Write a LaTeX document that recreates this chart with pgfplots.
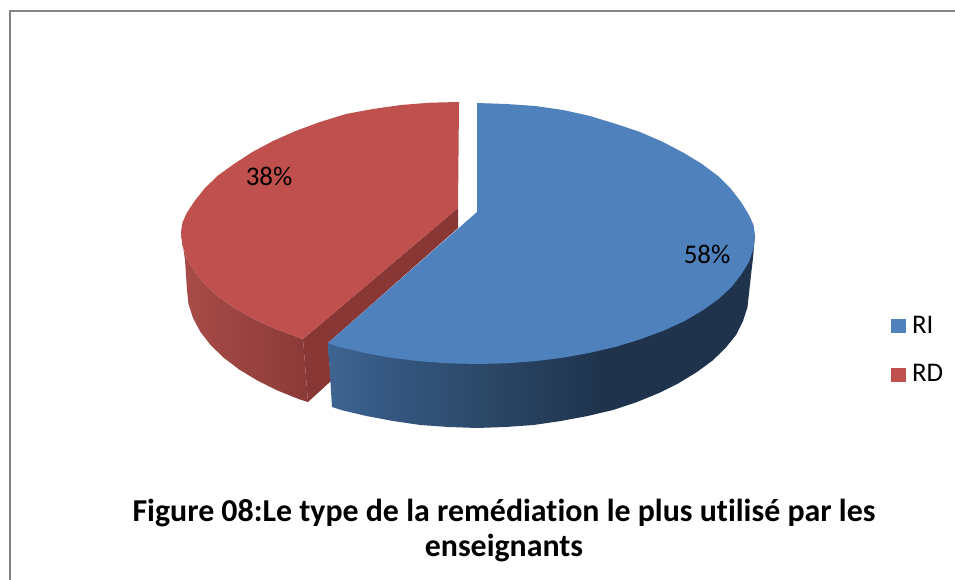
\documentclass[border=0pt]{standalone}
\usepackage{fontspec}
\setmainfont[Ligatures=NoCommon]{Carlito}
\usepackage{pgfplots}
\pgfplotsset{compat=1.18}
\definecolor{riC}{HTML}{4F81BD}
\definecolor{rdC}{HTML}{C0504D}
\definecolor{rdCut}{HTML}{893735}
\definecolor{rdA}{HTML}{A84C49}
\definecolor{rdB}{HTML}{8B3A37}
\definecolor{riA}{HTML}{3E6491}
\definecolor{riB}{HTML}{34567F}
\definecolor{riD}{HTML}{2B4766}
\definecolor{riE}{HTML}{1F334D}
\pgfdeclarehorizontalshading{blueside}{100bp}{color(0bp)=(riA); color(25bp)=(riA); color(33bp)=(riB); color(44bp)=(riD); color(57bp)=(riE); color(100bp)=(riE)}
\begin{document}
\begin{tikzpicture}
\begin{axis}[
  scale only axis, width=955bp, height=580bp,
  xmin=0, xmax=955, ymin=0, ymax=580, y dir=reverse,
  axis lines=none, clip=true,
  legend image code/.code={\fill[#1] (0bp,-7.5bp) rectangle (15bp,6.5bp);},
  reverse legend,
  legend cell align=left,
  legend style={at={(axis cs:891,314)}, anchor=north west, draw=none, fill=none,
    font=\fontsize{27}{32}\selectfont, row sep=26bp, inner sep=0pt, outer sep=0pt},
]
% page background
\addplot[forget plot, draw=none, fill=white] coordinates {(0,0)(955,0)(955,580)(0,580)};
% frame
\addplot[forget plot, draw=black!48, line width=2bp] coordinates {(9.5,580) (9.5,11) (955,11)};
% red side
\addplot[forget plot, draw=none, left color=rdA, right color=rdB] coordinates {
(181,232)(185,260)(187,290)(188.5,304)(193,318)(200.3,331.7)(210.5,344.9)(223.4,357.5)(239,369.4)(257,380.3)(277,390.3)(299,399.2)(308,402)
(303,339)(295.6,336.4)(273,327.9)(252.4,318.3)(234,307.8)(218,296.5)(205,284.5)(195,271.9)(187,258.8)(182.5,245.5)};
% red cut face
\addplot[forget plot, draw=none, fill=rdCut] coordinates {
(458,208)(303,339)(308,402)(331,381)(328,343)(458,228)};
% red top
\addplot[draw=none, fill=rdC] coordinates {
(459,102)(430,102.7)(401,105)(373,109)(346,114)(320,122)(295.6,131)(273,141)(252.4,152)(234,164)(218,175.5)(205,188)(195,200.5)(187,212.5)(182.5,222.4)(181,232)
(182.5,245.5)(187,258.8)(195,271.9)(205,284.5)(218,296.5)(234,307.8)(252.4,318.3)(273,327.9)(295.6,336.4)(303,339)
(458,208)};
\addlegendentry{\hspace{4bp}RD}
% blue side
\addplot[forget plot, draw=none, shading=blueside] coordinates {
(328,343)(332,407)(341,410)(366.4,416)(393,421)(420.4,425)(448.6,427)(477,428)(505.4,427)(533.6,425)(561,421)(587.6,416)(613,410)(637,402)(659,393)(679,383)(697,372)(712.6,360.5)(725.5,348)(736,335)(743,321)(747.5,307)(749,293)(751,275)(753,258)(755,235)
(477,300)};
% thin dark edge of blue
\addplot[forget plot, draw=riE, line width=0.8bp] coordinates {(477.5,103)(478,212)};
% blue top
\addplot[draw=none, fill=riC] coordinates {
(477,103)(506,104)(535,106)(563,110)(590,116)(616,124)(640,132)(663,142)(684,153)(702,164)(718,176)(731,189)(741,202)(749,215)(753.5,225)(755,235)
(753.5,248.5)(749,261.8)(741,274.9)(731,287.5)(718,299.5)(702,310.8)(684,321.3)(663,330.9)(640,339.4)(616,346.7)(590,352.8)(563,357.7)(535,361.2)(506,363.3)(477,364)(448,363.3)(419,361.2)(391,357.7)(364,352.8)(338,346.7)(328,343)
(477,212)};
\addlegendentry{\hspace{4bp}RI}
% data labels
\node[font=\fontsize{27}{32}\selectfont] at (axis cs:269,176) {38\%};
\node[font=\fontsize{27}{32}\selectfont] at (axis cs:707,254) {58\%};
% title
\node[font=\fontsize{32}{36}\selectfont\bfseries, align=center] at (axis cs:504,530.5)
  {Figure 08:Le type de la remédiation le plus utilisé par les\\enseignants};
\end{axis}
\end{tikzpicture}
\end{document}
